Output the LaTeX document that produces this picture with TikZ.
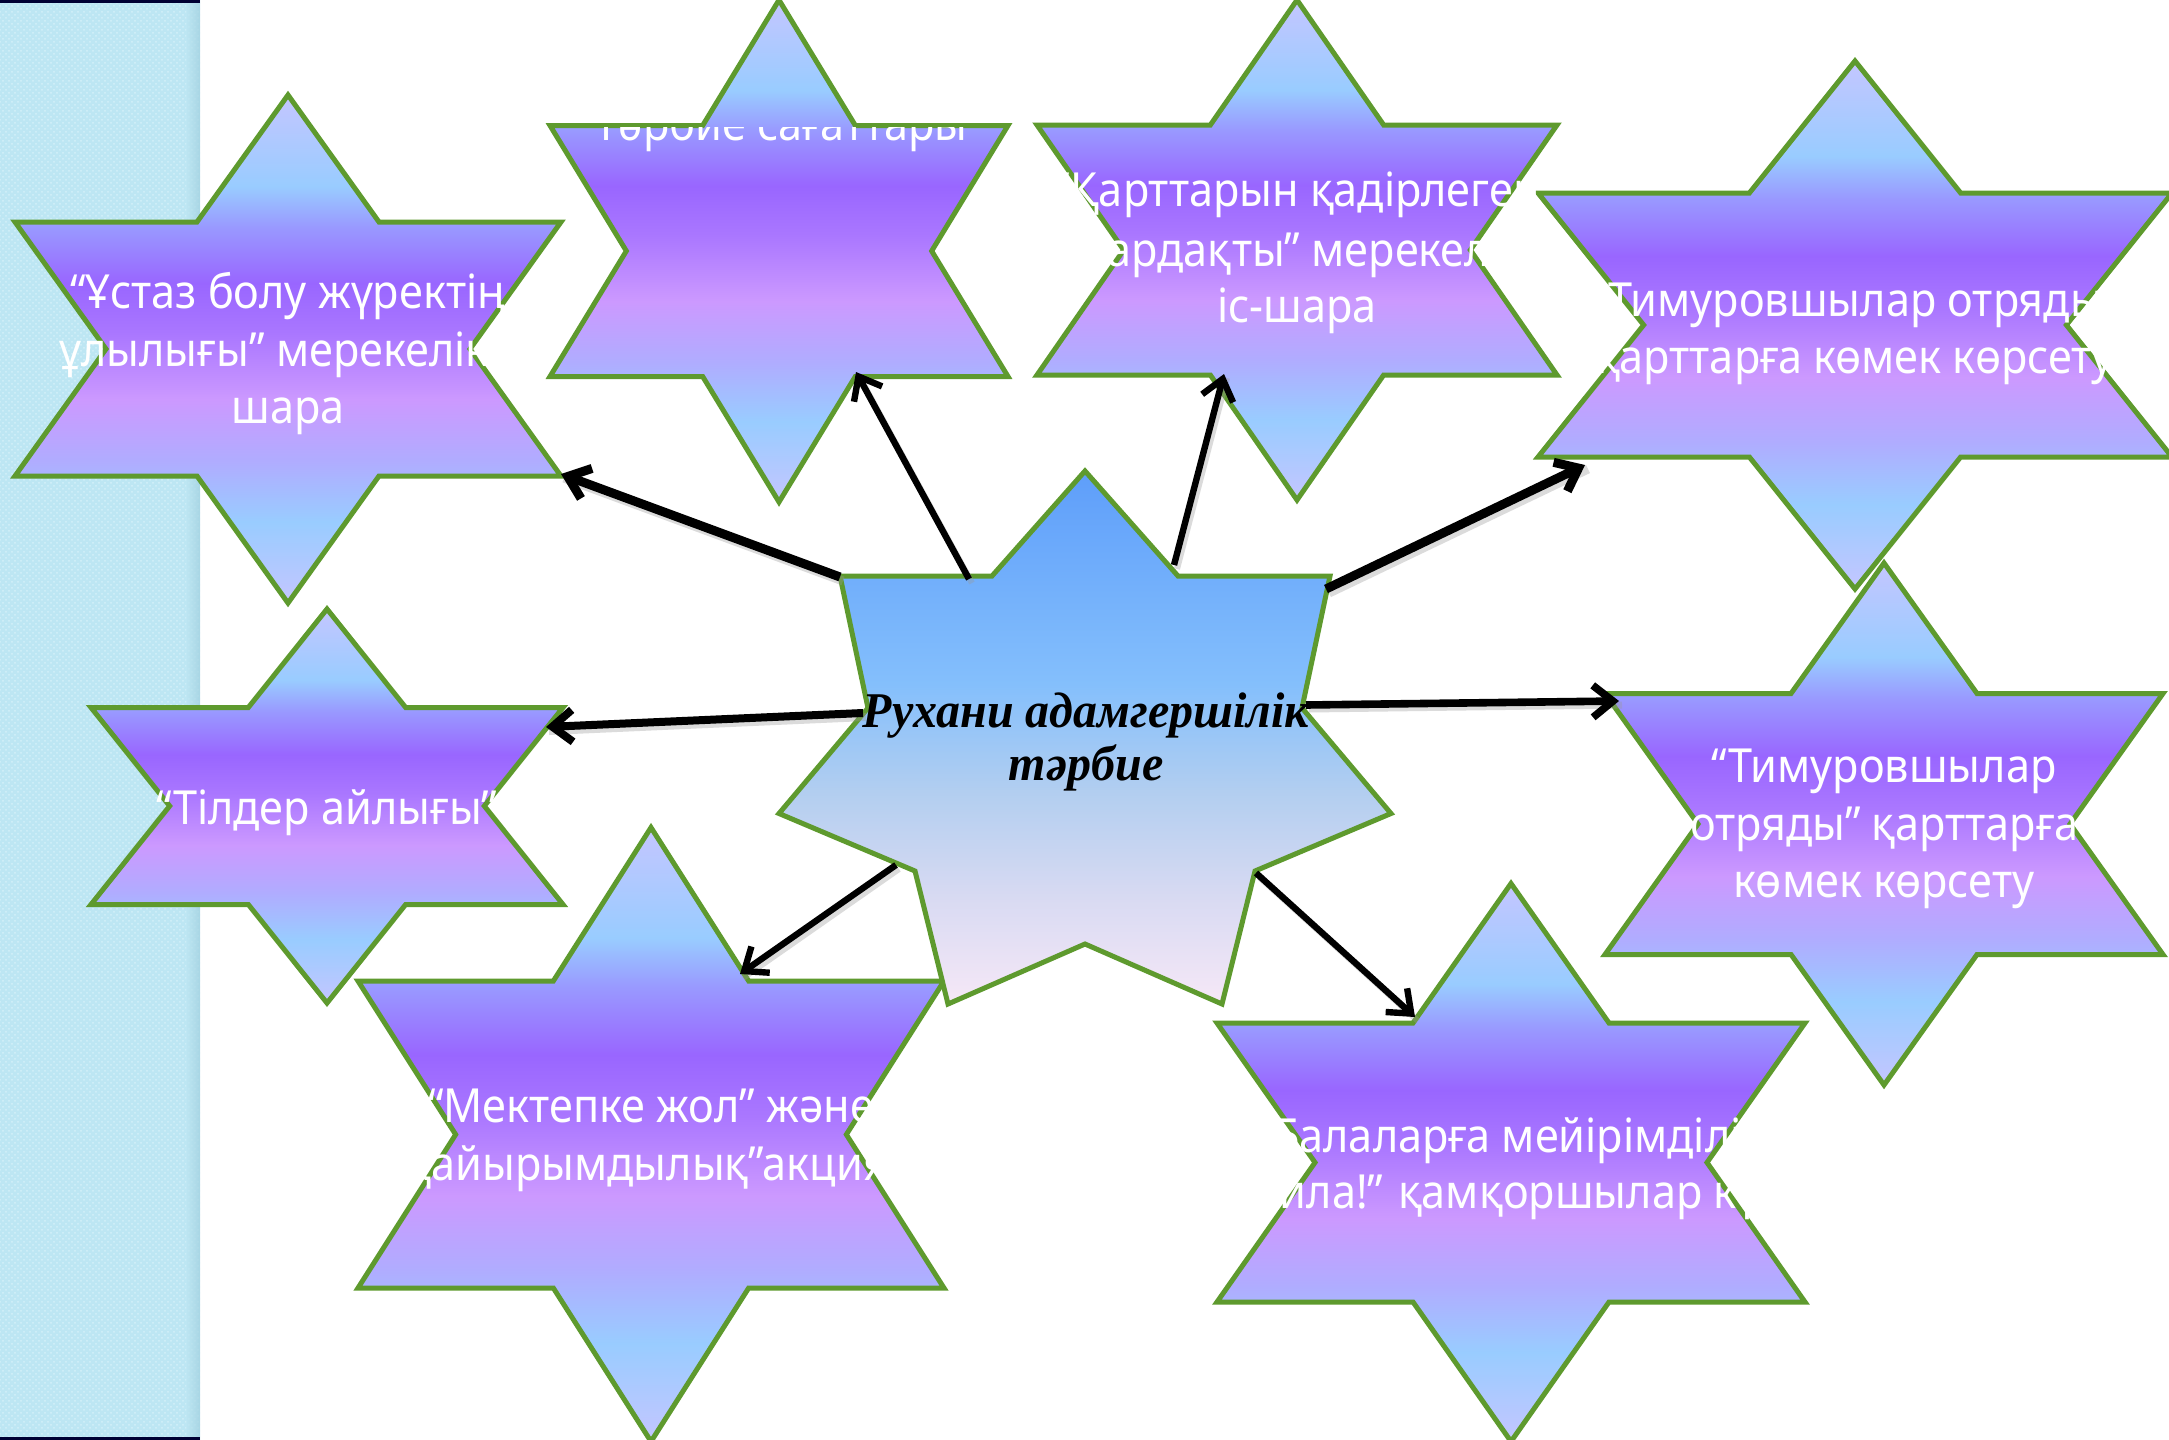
\documentclass[tikz,border=0pt]{standalone}
\usepackage{fontspec}
\setmainfont{Noto Sans}[FakeStretch=0.92]
\newfontfamily\ctrfont{Liberation Serif}[FakeStretch=0.96]
\usetikzlibrary{arrows.meta,patterns}
\definecolor{sgreen}{HTML}{5E9A2E}
\definecolor{stripc}{HTML}{BDE6F3}
\definecolor{stripd}{HTML}{D3F0F9}
\definecolor{stripe}{HTML}{9FCFDE}
\definecolor{sc1}{HTML}{C4C6FF}
\definecolor{sc2}{HTML}{99CCFF}
\definecolor{sc3}{HTML}{B0ACFF}
\definecolor{sc4}{HTML}{CC99FF}
\definecolor{sc5}{HTML}{AA77FF}
\definecolor{sc6}{HTML}{9966FF}
\definecolor{sc7}{HTML}{9999FF}
\definecolor{cc1}{HTML}{5E9EFA}
\definecolor{cc1b}{HTML}{84BFFC}
\definecolor{cc2}{HTML}{B2CEF0}
\definecolor{cc3}{HTML}{D8DAF2}
\definecolor{cc4}{HTML}{F6E8F7}
\pgfdeclareverticalshading{starshade}{100bp}{color(0bp)=(sc1); color(25bp)=(sc1); color(33bp)=(sc2); color(39bp)=(sc3); color(45bp)=(sc4); color(51.5bp)=(sc5); color(56.5bp)=(sc6); color(62bp)=(sc7); color(66bp)=(sc2); color(75bp)=(sc1); color(100bp)=(sc1)}
\pgfdeclareverticalshading{ctrshade}{100bp}{color(0bp)=(cc4); color(25bp)=(cc4); color(35bp)=(cc3); color(45bp)=(cc2); color(55bp)=(cc1b); color(75bp)=(cc1); color(100bp)=(cc1)}
\tikzset{
  starbox/.style={draw=sgreen, line width=2.5pt, line join=miter, shade, shading=starshade},
  ctrbox/.style={draw=sgreen, line width=2.5pt, line join=miter, shade, shading=ctrshade},
  conn/.style={-{Straight Barb[length=10pt,width=16pt]}, line width=#1, black},
  connshadow/.style={line width=#1, black!40, opacity=0.35},
  lbl/.style={text=white, inner sep=0pt, anchor=base, font=\fontsize{23.5}{28}\selectfont},
  ctrlbl/.style={text=black, inner sep=0pt, anchor=base, font=\fontsize{25}{28}\selectfont\ctrfont\bfseries\itshape}
}
\newcommand\hexstar[5]{%
  \path[starbox] (#2,{#3-#5/2}) -- ({#2+#4/3},{#3-#5/4}) -- ({#2+#4},{#3-#5/4})
    -- ({#2+2*#4/3},#3) -- ({#2+#4},{#3+#5/4}) -- ({#2+#4/3},{#3+#5/4})
    -- (#2,{#3+#5/2}) -- ({#2-#4/3},{#3+#5/4}) -- ({#2-#4},{#3+#5/4})
    -- ({#2-2*#4/3},#3) -- ({#2-#4},{#3-#5/4}) -- ({#2-#4/3},{#3-#5/4}) -- cycle;
  \coordinate (#1) at (#2,#3);}
\begin{document}
\begin{tikzpicture}[x=0.5pt,y=-0.5pt]
\useasboundingbox (0,0) rectangle (2169,1440);
\fill[white] (0,0) rectangle (2169,1440);
% left strip
\fill[stripc] (0,0) rectangle (200,1440);
\fill[pattern=crosshatch dots, pattern color=stripd] (0,0) rectangle (200,1440);
\shade[left color=stripc, right color=stripe, opacity=0.7] (186,0) rectangle (200,1440);
\fill[black!80!blue] (0,0) rectangle (200,3);
\fill[black!80!blue] (0,1437) rectangle (200,1440);
% stars
\hexstar{s1}{288}{349}{273}{508}
\hexstar{s2}{779}{251}{229}{502}
\hexstar{s3}{1297}{250}{260}{500}
\hexstar{s4}{1855}{325}{317}{528}
\hexstar{s5}{327}{806}{236}{394}
\hexstar{s6}{651}{1134.5}{293}{614}
\hexstar{s7}{1884}{824}{279}{522}
\hexstar{s8}{1511}{1162.5}{294}{558}
% centre star
\path[ctrbox] (1085,471) -- (1178,576) -- (1330,576) -- (1302,708) -- (1391,813.5)
  -- (1255,871) -- (1222,1004) -- (1085,944) -- (948,1004) -- (915,871)
  -- (779,813.5) -- (868,708) -- (840,576) -- (992,576) -- cycle;
\coordinate (ctr) at (1085,740);
% arrow end points
\coordinate (a1) at (840,577);   \coordinate (e1) at (561,474);
\coordinate (a2) at (969,579);   \coordinate (e2) at (856,372);
\coordinate (a3) at (1174,565);  \coordinate (e3) at (1224,374);
\coordinate (a4) at (1326,589);  \coordinate (e4) at (1585,465);
\coordinate (a5) at (863,713);   \coordinate (e5) at (546,727);
\coordinate (a6) at (896,865);   \coordinate (e6) at (740,974);
\coordinate (a7) at (1306,705);  \coordinate (e7) at (1619,701);
\coordinate (a8) at (1256,873);  \coordinate (e8) at (1415,1017);
% shadows
\foreach \a/\e/\w in {a1/e1/4.5pt, a2/e2/3pt, a3/e3/3pt, a4/e4/4.5pt, a5/e5/4pt, a6/e6/3pt, a7/e7/3.5pt, a8/e8/3pt}
  \draw[connshadow=\w] ([shift={(3,4)}]\a) -- ([shift={(3,4)}]\e);
% arrows
\draw[conn=4.5pt] (a1) -- (e1);
\draw[conn=3.2pt] (a2) -- (e2);
\draw[conn=3.2pt] (a3) -- (e3);
\draw[conn=4.5pt] (a4) -- (e4);
\draw[conn=4pt] (a5) -- (e5);
\draw[conn=3.2pt] (a6) -- (e6);
\draw[conn=3.8pt] (a7) -- (e7);
\draw[conn=3.2pt] (a8) -- (e8);
% centre text
\node[ctrlbl] (c1) at (1086,727) {Рухани адамгершілік};
\node[ctrlbl] (c2) at (1086,780) {тәрбие};
% star texts
\node[lbl] (t1a) at (288,308) {“Ұстаз болу жүректің};
\node[lbl] (t1b) at (274,366) {ұлылығы” мерекелік};
\node[lbl] (t1c) at (288,423) {шара};
\begin{scope}
  \clip (540,127) rectangle (1020,260);
  \node[lbl] (t2a) at (781,140) {Тәрбие сағаттары};
\end{scope}
\node[lbl] (t3a) at (1297,206) {“Қарттарын қадірлеген};
\node[lbl] (t3b) at (1316,266) {ардақты” мерекелік};
\node[lbl] (t3c) at (1297,322) {іс-шара};
\node[lbl] (t4a) at (1855,316) {“Тимуровшылар отряды”};
\node[lbl] (t4b) at (1855,373) {қарттарға көмек көрсету};
\node[lbl] (t5a) at (327,824) {“Тілдер айлығы”};
\node[lbl] (t6a) at (651,1122) {“Мектепке жол” және};
\node[lbl] (t6b) at (675,1180) {қайырымдылық”акциясы};
\node[lbl] (t7a) at (1884,782) {“Тимуровшылар};
\node[lbl] (t7b) at (1884,840) {отряды” қарттарға};
\node[lbl] (t7c) at (1884,897) {көмек көрсету};
\node[lbl] (t8a) at (1511,1152) {“Балаларға мейірімділік};
\node[lbl] (t8b) at (1511,1208) {сыйла!” қамқоршылар күні};
\end{tikzpicture}
\end{document}
